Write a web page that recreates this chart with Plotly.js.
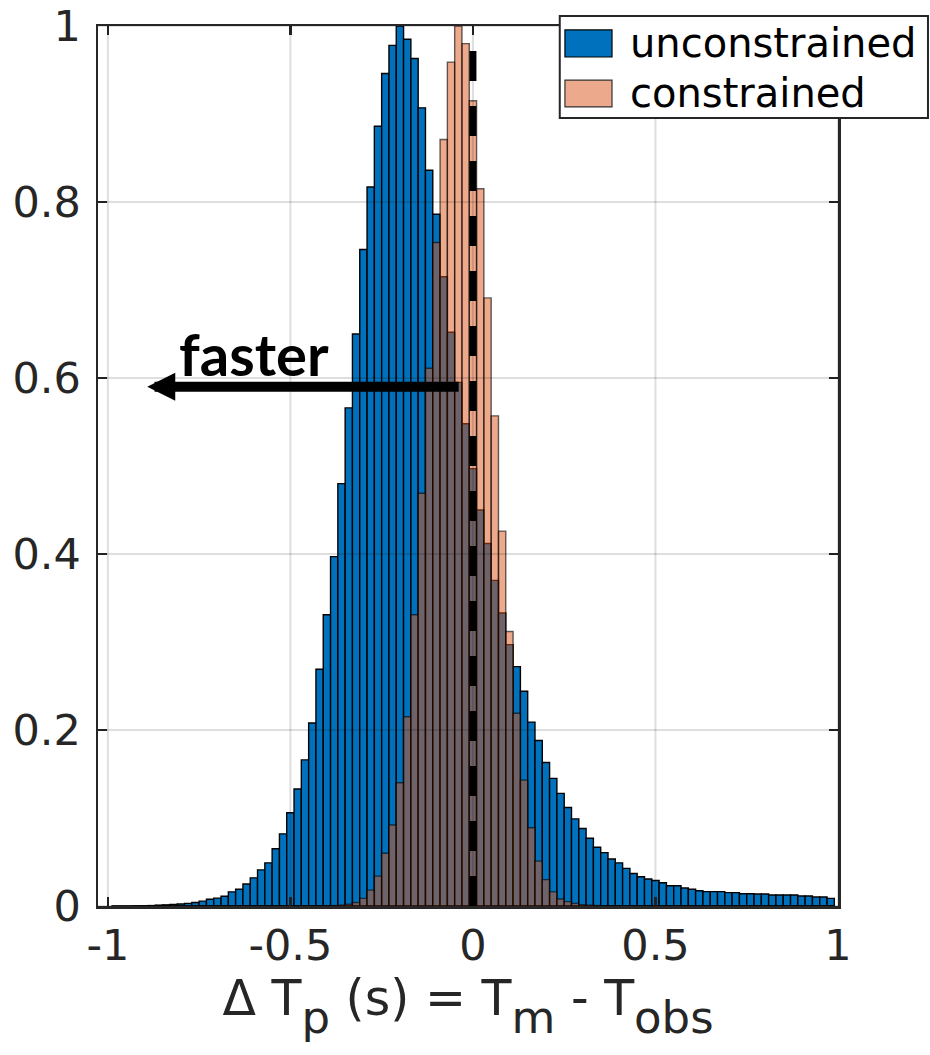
<!DOCTYPE html>
<html>
<head>
<meta charset="utf-8">
<script src="https://cdn.plot.ly/plotly-3.0.1.min.js"></script>
<style>html,body{margin:0;padding:0;background:#fff;}#chart{width:930px;height:1055px;}</style>
</head>
<body>
<div id="chart"></div>
<script>
// Bin centres (bin width 0.02, edges at odd hundredths)
const binCenters = [
 -0.98,-0.96,-0.94,-0.92,-0.90,-0.88,-0.86,-0.84,-0.82,-0.80,
 -0.78,-0.76,-0.74,-0.72,-0.70,-0.68,-0.66,-0.64,-0.62,-0.60,
 -0.58,-0.56,-0.54,-0.52,-0.50,-0.48,-0.46,-0.44,-0.42,-0.40,
 -0.38,-0.36,-0.34,-0.32,-0.30,-0.28,-0.26,-0.24,-0.22,-0.20,
 -0.18,-0.16,-0.14,-0.12,-0.10,-0.08,-0.06,-0.04,-0.02,0.00,
 0.02,0.04,0.06,0.08,0.10,0.12,0.14,0.16,0.18,0.20,
 0.22,0.24,0.26,0.28,0.30,0.32,0.34,0.36,0.38,0.40,
 0.42,0.44,0.46,0.48,0.50,0.52,0.54,0.56,0.58,0.60,
 0.62,0.64,0.66,0.68,0.70,0.72,0.74,0.76,0.78,0.80,
 0.82,0.84,0.86,0.88,0.90,0.92,0.94,0.96,0.98
];
const binWidth = 0.02;

const unconstrained = [
 0,0,0,0.0002,0.0003,0.0005,0.001,0.0013,0.0018,0.0022,
 0.003,0.004,0.0055,0.0076,0.009,0.011,0.016,0.019,0.025,0.032,
 0.041,0.049,0.065,0.082,0.106,0.133,0.166,0.208,0.269,0.331,
 0.397,0.480,0.566,0.650,0.746,0.817,0.886,0.946,0.978,1.000,
 0.985,0.963,0.907,0.836,0.786,0.715,0.652,0.595,0.548,0.497,
 0.450,0.412,0.370,0.333,0.297,0.272,0.244,0.209,0.188,0.163,
 0.145,0.128,0.112,0.099,0.088,0.077,0.0667,0.0606,0.0534,0.049,
 0.0428,0.037,0.0333,0.0307,0.029,0.0265,0.023,0.023,0.0205,0.019,
 0.0174,0.0163,0.0163,0.0163,0.0152,0.0152,0.014,0.014,0.0136,0.0136,
 0.0125,0.0125,0.0125,0.0125,0.0114,0.0114,0.0102,0.0102,0.0087
];

const constrained = [
 0,0,0,0,0,0,0,0,0,0,
 0,0,0,0,0,0,0,0,0,0,
 0,0,0,0,0,0,0,0,0,0,
 0.0005,0.001,0.002,0.004,0.0087,0.018,0.034,0.060,0.092,0.140,
 0.215,0.331,0.469,0.611,0.754,0.871,0.959,1.000,0.980,0.915,
 0.815,0.691,0.557,0.426,0.312,0.219,0.143,0.089,0.051,0.030,
 0.016,0.008,0.005,0.003,0.0015,0.001,0.0005,0,0,0,
 0,0,0,0,0,0,0,0,0,0,
 0,0,0,0,0,0,0,0,0,0,
 0,0,0,0,0,0,0,0,0
];

const seriesNames = ['unconstrained', 'constrained'];
const xTickVals = [-1, -0.5, 0, 0.5, 1];
const xTickText = ['-1', '-0.5', '0', '0.5', '1'];
const yTickVals = [0, 0.2, 0.4, 0.6, 0.8, 1];
const yTickText = ['0', '0.2', '0.4', '0.6', '0.8', '1'];
const refLineX = 0;
const arrowLabel = 'faster';

const blue = '#0072BD';
const salmon = 'rgba(217,83,25,0.5)';
const salmonOnWhite = 'rgb(236,169,140)';
const axisColor = '#262626';
const FONT = 'DejaVu Sans, sans-serif';

const sub = t => '<sub><sub><span style="font-size:45px">' + t + '</span></sub></sub>';
const xTitle = 'Δ T' + sub('p') + ' (s) = T' + sub('m') + ' - T' + sub('obs');

const traces = [
  {
    type: 'bar', name: seriesNames[0], x: binCenters, y: unconstrained,
    width: binWidth,
    marker: {color: blue, line: {color: '#000000', width: 1.4}},
    showlegend: false, hoverinfo: 'x+y'
  },
  {
    type: 'bar', name: seriesNames[1], x: binCenters, y: constrained,
    width: binWidth,
    marker: {color: salmon, line: {color: 'rgba(0,0,0,0.6)', width: 1.4}},
    showlegend: false, hoverinfo: 'x+y'
  }
];

const shapes = [];
xTickVals.forEach(v => shapes.push({type:'line', xref:'x', yref:'paper', x0:v, x1:v, y0:0, y1:1,
  line:{color:'rgba(0,0,0,0.13)', width:2}, layer:'above'}));
yTickVals.forEach(v => shapes.push({type:'line', xref:'paper', yref:'y', x0:0, x1:1, y0:v, y1:v,
  line:{color:'rgba(0,0,0,0.13)', width:2}, layer:'above'}));
shapes.push({type:'line', xref:'x', yref:'y', x0:refLineX, x1:refLineX, y0:0, y1:1,
  line:{color:'#000', width:7, dash:'30px,25px'}, layer:'above'});
shapes.push({type:'rect', xref:'paper', yref:'paper', x0:0.624, x1:1.1216, y0:0.8955, y1:1.0114,
  line:{color:axisColor, width:2}, fillcolor:'#fff', layer:'above'});
shapes.push({type:'rect', xref:'paper', yref:'paper', x0:0.631, x1:0.6946, y0:0.9648, y1:0.9955,
  line:{color:'#000', width:1.2}, fillcolor:blue, layer:'above'});
shapes.push({type:'rect', xref:'paper', yref:'paper', x0:0.631, x1:0.6946, y0:0.908, y1:0.9386,
  line:{color:'#333', width:1.2}, fillcolor:salmonOnWhite, layer:'above'});

const annotations = [
  {x:-0.892, y:0.59, ax:-0.035, ay:0.59, xref:'x', yref:'y', axref:'x', ayref:'y',
   showarrow:true, text:'', arrowhead:2, arrowsize:0.56, arrowwidth:10, arrowcolor:'#000', standoff:0},
  {x:-0.6, y:0.628, xref:'x', yref:'y', text:'<b>'+arrowLabel+'</b>', showarrow:false,
   font:{family:'Lato, Open Sans, sans-serif', size:58, color:'#000'}, xanchor:'center', yanchor:'middle'},
  {x:0.716, y:0.9807, xref:'paper', yref:'paper', text:seriesNames[0], showarrow:false,
   xanchor:'left', yanchor:'middle', font:{family:FONT, size:40, color:'#000'}},
  {x:0.716, y:0.9239, xref:'paper', yref:'paper', text:seriesNames[1], showarrow:false,
   xanchor:'left', yanchor:'middle', font:{family:FONT, size:40, color:'#000'}}
];

const layout = {
  width: 930, height: 1055,
  margin: {l:98, r:92, t:26, b:149, pad:0},
  paper_bgcolor:'#fff', plot_bgcolor:'#fff',
  barmode:'overlay', bargap:0,
  showlegend:false,
  font:{family:FONT, color:axisColor, size:43},
  xaxis:{
    range:[-1.027, 1.0], tickmode:'array', tickvals:xTickVals, ticktext:xTickText,
    showgrid:false, zeroline:false, showline:true, linecolor:axisColor, linewidth:2.5, mirror:'ticks',
    ticks:'inside', ticklen:9, tickwidth:2.5, tickcolor:axisColor,
    tickfont:{family:FONT, size:43, color:axisColor}, ticklabelstandoff:0,
    layer:'above traces',
    title:{text:xTitle, font:{family:FONT, size:49, color:axisColor}, standoff:6}
  },
  yaxis:{
    range:[0, 1], tickmode:'array', tickvals:yTickVals, ticktext:yTickText,
    showgrid:false, zeroline:false, showline:true, linecolor:axisColor, linewidth:2.5, mirror:'ticks',
    ticks:'inside', ticklen:9, tickwidth:2.5, tickcolor:axisColor,
    tickfont:{family:FONT, size:43, color:axisColor}, ticklabelstandoff:6,
    layer:'above traces'
  },
  shapes: shapes,
  annotations: annotations
};

Plotly.newPlot('chart', traces, layout, {displayModeBar:false, staticPlot:true});
</script>
</body>
</html>
